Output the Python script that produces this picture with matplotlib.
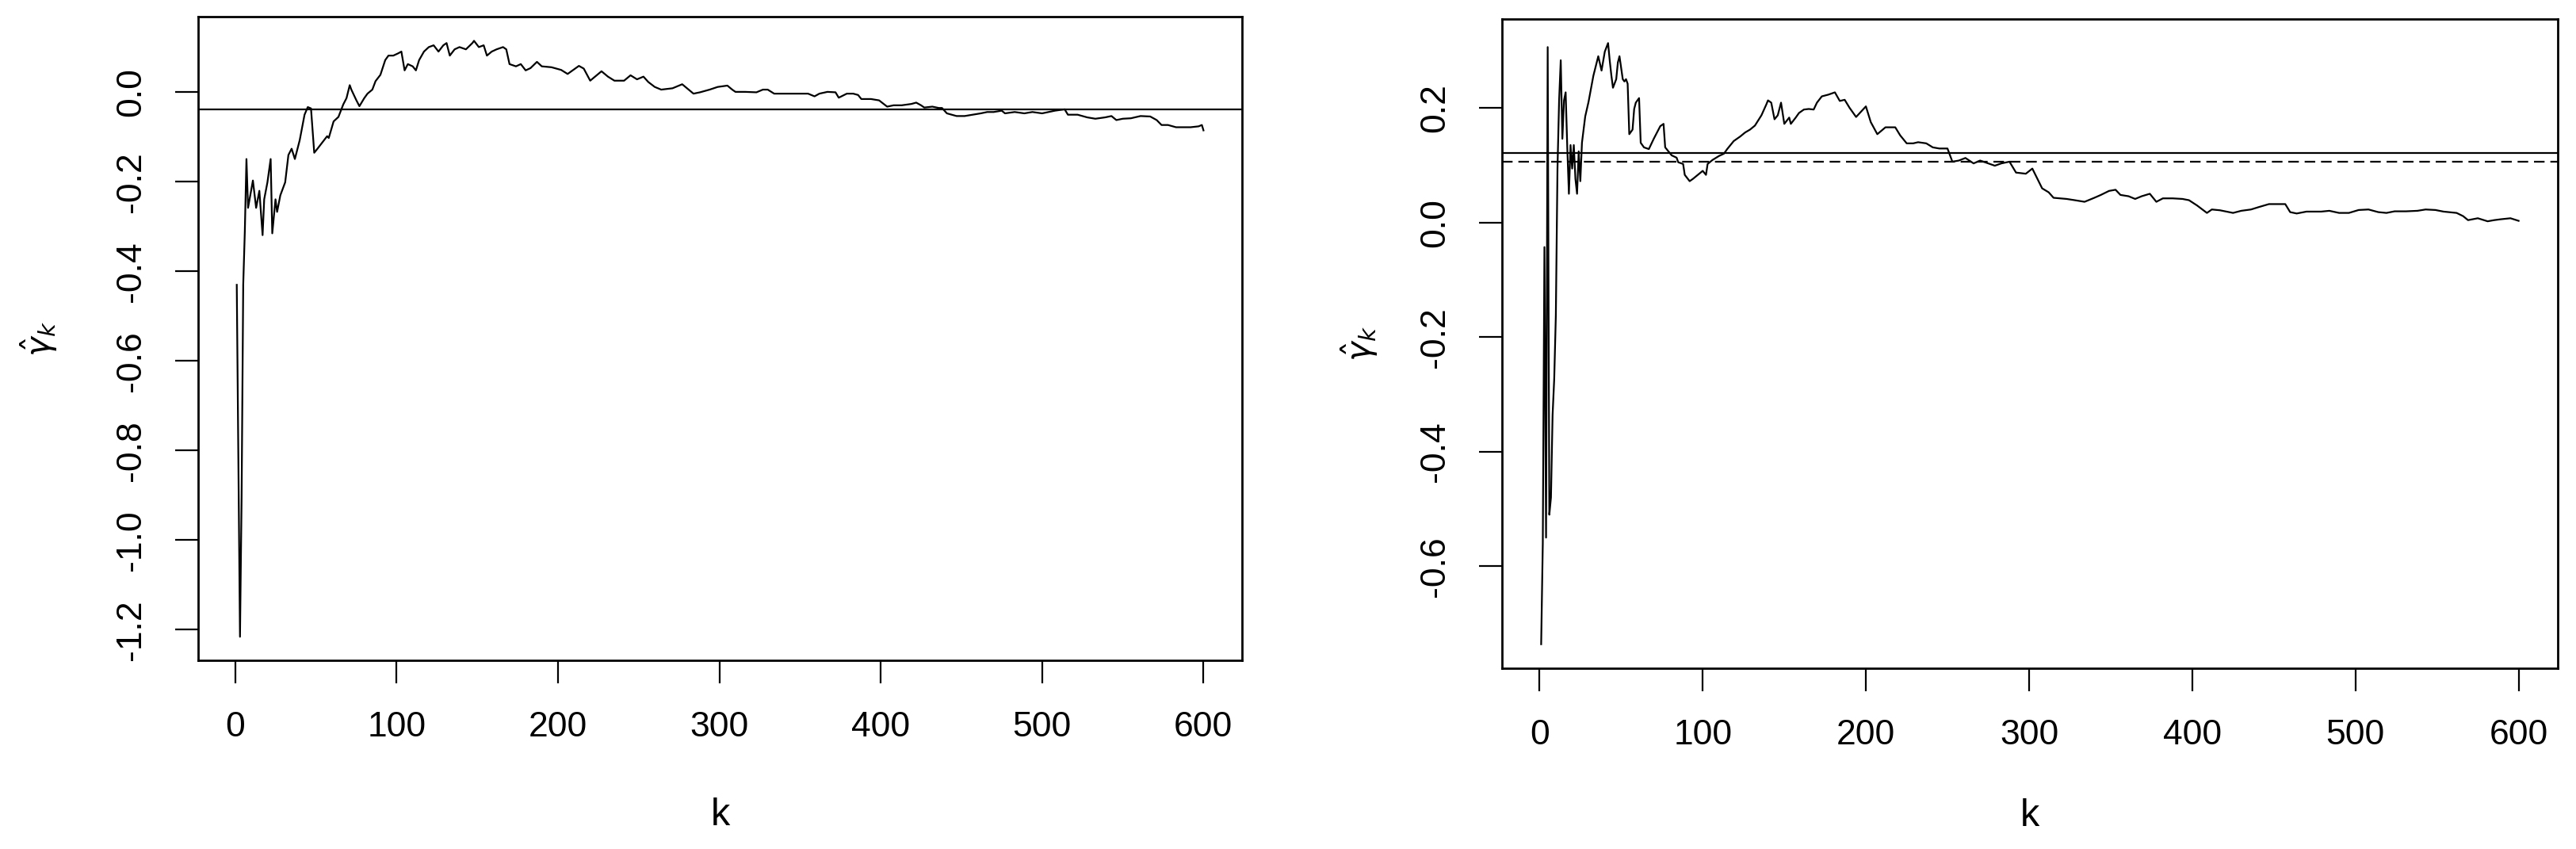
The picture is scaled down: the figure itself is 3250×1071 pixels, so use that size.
import numpy as np
import matplotlib
matplotlib.use("Agg")
import matplotlib.pyplot as plt

plt.rcParams['font.family'] = ['Liberation Sans', 'DejaVu Sans']
plt.rcParams['axes.unicode_minus'] = False
plt.rcParams['mathtext.fontset'] = 'dejavusans'

# left panel: estimator path and reference level
k_left = [1, 2, 3, 4, 5, 6, 7, 8, 11, 13, 15, 17, 18, 20, 22, 23, 25, 26, 28, 31,
          33, 35, 37, 40, 43, 45, 47, 49, 51, 54, 57, 58, 61, 64, 67, 69, 71, 72, 75, 77,
          80, 82, 85, 87, 90, 93, 95, 98, 101, 103, 105, 107, 110, 112, 114, 117, 120, 123, 126, 129,
          131, 133, 136, 139, 143, 147, 148, 151, 154, 156, 159, 162, 166, 168, 170, 174, 177, 180, 183, 187,
          190, 196, 202, 206, 213, 216, 220, 223, 227, 231, 235, 241, 245, 249, 253, 256, 260, 264, 271, 277,
          281, 284, 288, 294, 299, 305, 308, 310, 316, 323, 327, 330, 334, 341, 349, 355, 359, 362, 367, 372,
          374, 379, 383, 386, 388, 394, 399, 404, 408, 413, 419, 422, 425, 427, 432, 436, 438, 441, 447, 452,
          457, 462, 466, 470, 475, 477, 483, 489, 494, 500, 504, 508, 514, 516, 522, 528, 533, 539, 543, 546,
          550, 555, 561, 567, 571, 574, 578, 583, 592, 597, 599, 600]
gamma_left = [-0.43, -0.83, -1.216, -0.905, -0.43, -0.31, -0.149, -0.258, -0.197, -0.258,
              -0.220, -0.319, -0.239, -0.201, -0.149, -0.315, -0.239, -0.267, -0.230, -0.201,
              -0.140, -0.126, -0.149, -0.107, -0.050, -0.033, -0.036, -0.135, -0.126, -0.112,
              -0.098, -0.102, -0.065, -0.055, -0.027, -0.013, 0.016, 0.006, -0.017, -0.031,
              -0.013, -0.003, 0.006, 0.025, 0.039, 0.072, 0.082, 0.082, 0.087, 0.091,
              0.049, 0.063, 0.058, 0.049, 0.072, 0.091, 0.101, 0.105, 0.091, 0.105,
              0.110, 0.082, 0.096, 0.101, 0.096, 0.110, 0.115, 0.101, 0.105, 0.082,
              0.091, 0.096, 0.101, 0.096, 0.063, 0.058, 0.063, 0.049, 0.054, 0.068,
              0.058, 0.056, 0.050, 0.041, 0.059, 0.053, 0.026, 0.035, 0.047, 0.035,
              0.026, 0.026, 0.038, 0.029, 0.035, 0.023, 0.012, 0.006, 0.009, 0.018,
              0.006, -0.003, 0.0, 0.006, 0.012, 0.015, 0.006, 0.001, 0.001, 0.0,
              0.006, 0.006, -0.003, -0.003, -0.003, -0.003, -0.009, -0.003, 0.001, 0.0,
              -0.012, -0.003, -0.003, -0.006, -0.015, -0.015, -0.018, -0.032, -0.029, -0.029,
              -0.026, -0.023, -0.029, -0.034, -0.032, -0.035, -0.035, -0.047, -0.053, -0.053,
              -0.050, -0.047, -0.044, -0.044, -0.041, -0.047, -0.044, -0.047, -0.044, -0.047,
              -0.044, -0.041, -0.038, -0.050, -0.050, -0.056, -0.059, -0.056, -0.053, -0.062,
              -0.059, -0.058, -0.053, -0.054, -0.062, -0.073, -0.073, -0.078, -0.078, -0.076,
              -0.073, -0.085]
ref_left = -0.039

# right panel: estimator path and two reference levels
k_right = [1, 2, 3, 4, 5, 6, 7, 8, 9, 10, 11, 12, 13, 14, 15, 16, 17, 18, 19, 20,
           21, 22, 23, 24, 25, 26, 27, 28, 30, 33, 36, 38, 40, 42, 43, 44, 45, 47, 48, 49,
           51, 52, 53, 54, 55, 57, 58, 59, 61, 62, 64, 67, 70, 72, 74, 76, 77, 79, 81, 84,
           85, 88, 89, 92, 94, 97, 100, 102, 103, 106, 110, 113, 115, 117, 119, 123, 126, 129, 132, 136,
           139, 140, 142, 144, 146, 148, 150, 153, 154, 157, 159, 162, 165, 168, 170, 173, 177, 181, 184, 187,
           190, 194, 200, 203, 207, 212, 218, 221, 225, 229, 232, 237, 241, 245, 250, 253, 257, 261, 266, 270,
           275, 279, 283, 288, 292, 298, 302, 308, 312, 315, 323, 328, 334, 340, 344, 349, 353, 356, 361, 365,
           369, 374, 378, 382, 388, 394, 398, 403, 409, 412, 417, 425, 430, 436, 441, 447, 457, 460, 464, 470,
           479, 484, 490, 496, 502, 508, 514, 519, 524, 531, 538, 543, 549, 554, 562, 566, 569, 575, 581, 585,
           589, 595, 600]
gamma_right = [-0.736, -0.56, -0.043, -0.55, 0.306, -0.51, -0.48, -0.336, -0.273, -0.162,
               0.094, 0.213, 0.283, 0.146, 0.213, 0.227, 0.131, 0.050, 0.135, 0.094,
               0.135, 0.076, 0.050, 0.124, 0.072, 0.139, 0.162, 0.185, 0.210, 0.256,
               0.290, 0.265, 0.298, 0.313, 0.283, 0.257, 0.235, 0.250, 0.279, 0.290,
               0.250, 0.246, 0.250, 0.242, 0.154, 0.162, 0.198, 0.209, 0.217, 0.139,
               0.131, 0.128, 0.146, 0.157, 0.168, 0.172, 0.131, 0.124, 0.117, 0.113,
               0.105, 0.102, 0.083, 0.072, 0.076, 0.083, 0.090, 0.083, 0.102, 0.109,
               0.116, 0.120, 0.128, 0.135, 0.142, 0.150, 0.157, 0.162, 0.169, 0.187,
               0.206, 0.213, 0.209, 0.180, 0.187, 0.209, 0.172, 0.183, 0.172, 0.183,
               0.191, 0.197, 0.198, 0.197, 0.209, 0.220, 0.223, 0.227, 0.212, 0.214,
               0.200, 0.184, 0.2025, 0.175, 0.154, 0.166, 0.166, 0.152, 0.138, 0.138,
               0.140, 0.138, 0.131, 0.129, 0.129, 0.106, 0.108, 0.1125, 0.103, 0.108,
               0.103, 0.099, 0.103, 0.106, 0.087, 0.085, 0.094, 0.0595, 0.0526, 0.043,
               0.041, 0.0388, 0.036, 0.043, 0.048, 0.055, 0.057, 0.048, 0.0457, 0.041,
               0.0457, 0.050, 0.036, 0.042, 0.042, 0.041, 0.0388, 0.0295, 0.0166, 0.0226,
               0.0212, 0.0166, 0.0203, 0.0226, 0.027, 0.032, 0.032, 0.018, 0.0156, 0.0189,
               0.0189, 0.0203, 0.0166, 0.0166, 0.0217, 0.0226, 0.018, 0.0166, 0.0194, 0.0194,
               0.0203, 0.0226, 0.0217, 0.0189, 0.0166, 0.011, 0.004, 0.0073, 0.002, 0.004,
               0.0055, 0.0073, 0.0028]
ref_right_solid = 0.121
ref_right_dashed = 0.106

x_ticks = [0, 100, 200, 300, 400, 500, 600]
y_ticks_left = [-1.2, -1.0, -0.8, -0.6, -0.4, -0.2, 0.0]
y_ticks_right = [-0.6, -0.4, -0.2, 0.0, 0.2]

FS = 32


def r_limits(vals):
    # R style axis range: data range padded by 4% each side
    lo, hi = min(vals), max(vals)
    pad = 0.04 * (hi - lo)
    return lo - pad, hi + pad


def style_axes(ax, k, g, yticks, ylab_x, xlab_y):
    ax.set_xlim(*r_limits(k))
    ax.set_ylim(*r_limits(g))
    for s in ax.spines.values():
        s.set_linewidth(2.0)
    ax.tick_params(direction='out', length=21, width=1.6, pad=25, labelsize=FS)
    ax.set_xticks(x_ticks, labels=[str(t) for t in x_ticks])
    ax.set_yticks(yticks, labels=[f"{t:.1f}" for t in yticks], rotation=90, va='center')
    ax.text(ylab_x, 0.5, r'$\hat{\gamma}_k$', transform=ax.transAxes, rotation=90,
            ha='center', va='center', fontsize=30)
    ax.text(0.5, xlab_y, 'k', transform=ax.transAxes, ha='center', va='center', fontsize=FS + 3)


fig = plt.figure(figsize=(32.5, 10.71), dpi=100)
ax1 = fig.add_axes([0.0769, 0.2219, 0.4053, 0.7581])
ax2 = fig.add_axes([0.5831, 0.2129, 0.4098, 0.7647])

ax1.plot(k_left, gamma_left, color='black', lw=1.6)
ax1.axhline(ref_left, color='black', lw=1.6)
style_axes(ax1, k_left, gamma_left, y_ticks_left, -0.152, -0.24)

ax2.plot(k_right, gamma_right, color='black', lw=1.6)
ax2.axhline(ref_right_solid, color='black', lw=1.6)
ax2.axhline(ref_right_dashed, color='black', lw=1.6, linestyle=(0, (6, 3.3)))
style_axes(ax2, k_right, gamma_right, y_ticks_right, -0.135, -0.228)

fig.savefig('out.png', dpi=100)
